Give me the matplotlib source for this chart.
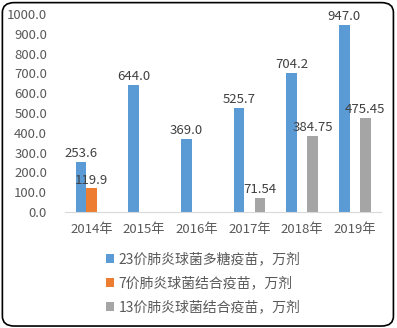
import matplotlib.pyplot as plt
import matplotlib.patches as patches
import numpy as np

plt.rcParams['font.family'] = ['Noto Sans CJK SC', 'DejaVu Sans']

# 分年份的疫苗批签发量
years = ['2014年', '2015年', '2016年', '2017年', '2018年', '2019年']
ppv23 = [253.6, 644.0, 369.0, 525.7, 704.2, 947.0]
pcv7 = [119.9, None, None, None, None, None]
pcv13 = [None, None, None, 71.54, 384.75, 475.45]
ppv23_labels = ['253.6', '644.0', '369.0', '525.7', '704.2', '947.0']
pcv7_labels = ['119.9', '', '', '', '', '']
pcv13_labels = ['', '', '', '71.54', '384.75', '475.45']
series_names = ['23价肺炎球菌多糖疫苗，万剂', '7价肺炎球菌结合疫苗，万剂', '13价肺炎球菌结合疫苗，万剂']
yticks = [0, 100, 200, 300, 400, 500, 600, 700, 800, 900, 1000]

colors = ['#5b9bd5', '#ed7d31', '#a5a5a5']
text_col = '#595959'

fig = plt.figure(figsize=(3.97, 3.28), dpi=100)
ax = fig.add_axes([0.164, 0.354, 0.796, 0.603])

x = np.arange(len(years))
w = 0.2
handles = []
for i, (vals, labs) in enumerate([(ppv23, ppv23_labels), (pcv7, pcv7_labels), (pcv13, pcv13_labels)]):
    v = [np.nan if a is None else a for a in vals]
    b = ax.bar(x + (i - 1) * w, v, width=w, color=colors[i], label=series_names[i])
    handles.append(b)
    for xi, vi, lab in zip(x, v, labs):
        if lab:
            ax.text(xi + (i - 1) * w, vi + 8, lab, ha='center', va='bottom',
                    fontsize=9.5, color='#404040')

ax.set_xlim(-0.5, len(years) - 0.5)
ax.set_ylim(0, 1000)
ax.set_yticks(yticks)
ax.set_yticklabels([f'{t:.1f}' for t in yticks], fontsize=9.5, color=text_col)
ax.set_xticks(x)
ax.set_xticklabels(years, fontsize=9.5, color=text_col)
ax.tick_params(axis='x', length=0, pad=8)
ax.tick_params(axis='y', length=0, pad=13)
for s in ['top', 'right', 'left']:
    ax.spines[s].set_visible(False)
ax.spines['bottom'].set_color('#d9d9d9')

fig.legend(handles=handles, labels=series_names, loc='upper left',
           bbox_to_anchor=(0.235, 0.268), frameon=False, fontsize=10,
           handlelength=0.6, handleheight=0.6, handletextpad=0.3,
           labelspacing=0.72, labelcolor=text_col)

# 圆角外框
frame = patches.FancyBboxPatch((0.006, 0.006), 0.985, 0.986,
                               boxstyle='round,pad=0,rounding_size=0.03',
                               transform=fig.transFigure, fill=False,
                               edgecolor='black', lw=1.2)
fig.patches.append(frame)

fig.savefig('out.png', dpi=100)
